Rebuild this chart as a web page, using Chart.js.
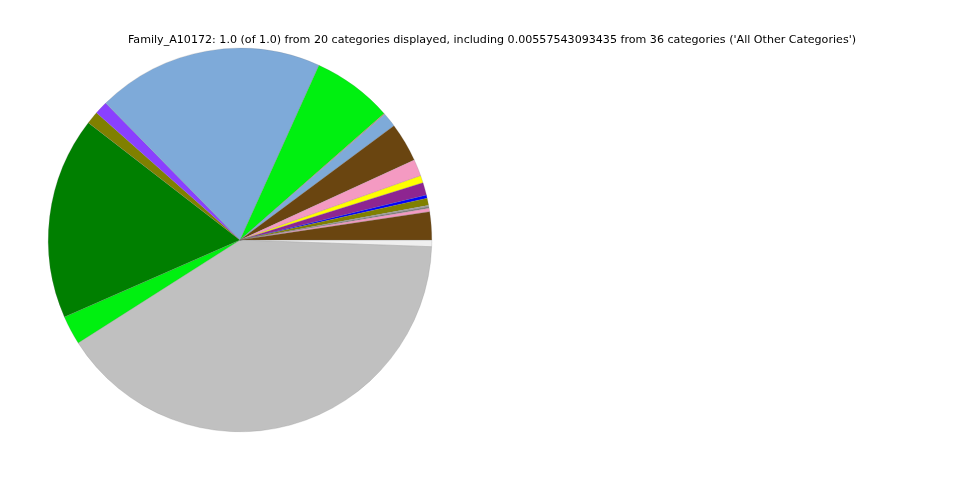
<!DOCTYPE html>
<html>
<head>
<meta charset="utf-8">
<script src="https://cdn.jsdelivr.net/npm/chart.js@4/dist/chart.umd.min.js"></script>
<style>
html,body{margin:0;padding:0;background:#fff;}
#wrap{width:960px;height:480px;position:relative;}
</style>
</head>
<body>
<div id="wrap"><canvas id="c" width="960" height="480"></canvas></div>
<script>
// Slices listed in the reference's counter-clockwise order starting at east
const titleText = "Family_A10172: 1.0 (of 1.0) from 20 categories displayed, including 0.00557543093435 from 36 categories ('All Other Categories')";
const categories = ["Category 01","Category 02","Category 03","Category 04","Category 05","Category 06","Category 07","Category 08","Category 09","Category 10","Category 11","Category 12","Category 13","Category 14","Category 15","Category 16","Category 17","Category 18","Category 19","All Other Categories"];
const shares = [0.0236,0.0028,0.0016,0.0010,0.0060,0.0026,0.0107,0.0061,0.0142,0.0331,0.0122,0.0008,0.0678,0.1911,0.0111,0.0106,0.1706,0.0244,0.4044,0.00557543093435];
const sliceColors = ["#6a4510","#f49ac2","#808080","#a8a8a8","#808000","#0000ff","#8e2591","#ffff00","#f49ac2","#6a4510","#7eaad9","#c49a6c","#00f010","#7eaad9","#8a40ff","#808000","#007f00","#00f010","#c0c0c0","#efefef"];

// Chart.js draws clockwise from the top; reverse order and start at east to mimic counter-clockwise
const revLabels = categories.slice().reverse();
const revData = shares.slice().reverse();
const revColors = sliceColors.slice().reverse();

const titlePlugin = {
  id: 'figTitle',
  afterDraw(chart) {
    const ctx = chart.ctx;
    ctx.save();
    ctx.font = '11.1px "DejaVu Sans"';
    ctx.fillStyle = '#000';
    ctx.textAlign = 'center';
    ctx.textBaseline = 'middle';
    ctx.fillText(titleText, 492, 40);
    ctx.restore();
  }
};

new Chart(document.getElementById('c'), {
  type: 'pie',
  data: {
    labels: revLabels,
    datasets: [{
      data: revData,
      backgroundColor: revColors,
      borderColor: 'rgba(120,120,120,0.5)',
      borderWidth: 0.4
    }]
  },
  options: {
    responsive: false,
    animation: false,
    rotation: 90,
    layout: { padding: { left: 48, right: 528, top: 48, bottom: 48 } },
    plugins: {
      legend: { display: false },
      title: { display: false },
      tooltip: { enabled: false }
    }
  },
  plugins: [titlePlugin]
});
</script>
</body>
</html>
